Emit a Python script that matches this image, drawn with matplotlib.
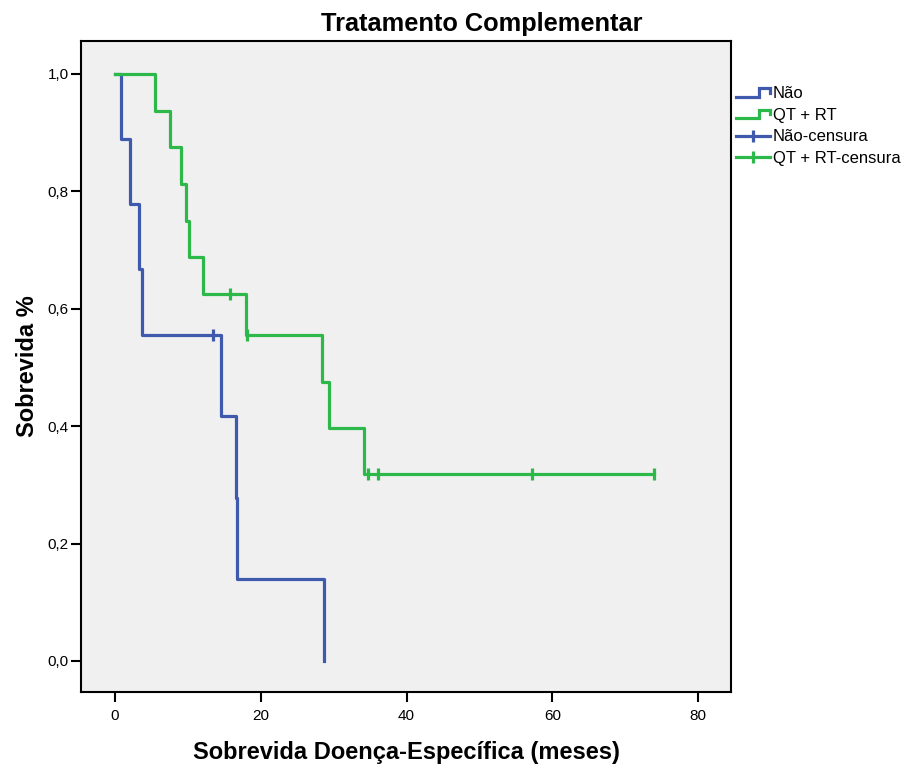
import matplotlib
matplotlib.use("Agg")
import matplotlib.pyplot as plt
from matplotlib.lines import Line2D
from matplotlib.legend_handler import HandlerBase
from matplotlib.ticker import FuncFormatter

plt.rcParams['font.family'] = ['Liberation Sans', 'DejaVu Sans']

# dados (Kaplan-Meier)
nao_tempo = [0, 0.8, 2.1, 3.3, 3.75, 14.6, 16.6, 16.7, 28.6]
nao_sobrev = [1.0, 0.889, 0.778, 0.667, 0.556, 0.417, 0.278, 0.139, 0.0]
nao_cens_tempo = [13.5]
nao_cens_sobrev = [0.556]

qt_tempo = [0, 5.5, 7.5, 9.0, 9.7, 10.1, 12.1, 18.0, 28.4, 29.3, 34.1, 73.9]
qt_sobrev = [1.0, 0.9375, 0.875, 0.8125, 0.75, 0.6875, 0.625, 0.556, 0.476, 0.397, 0.318, 0.318]
qt_cens_tempo = [15.8, 18.1, 34.7, 36.1, 57.2, 73.9]
qt_cens_sobrev = [0.625, 0.556, 0.318, 0.318, 0.318, 0.318]

legendas = ['Não', 'QT + RT', 'Não-censura', 'QT + RT-censura']
x_ticks = [0, 20, 40, 60, 80]
y_ticks = [0.0, 0.2, 0.4, 0.6, 0.8, 1.0]

azul = '#3F5AAD'
verde = '#2DB94A'


class HandlerStep(HandlerBase):
    """Ícone em degrau para a legenda"""
    def create_artists(self, legend, orig_handle, xdescent, ydescent,
                       width, height, fontsize, trans):
        x0, y0 = -xdescent, -ydescent
        xs = [x0, x0 + 0.68 * width, x0 + 0.68 * width, x0 + width, x0 + width]
        ys = [y0 + 0.1 * height, y0 + 0.1 * height, y0 + 0.85 * height,
              y0 + 0.85 * height, y0 + 0.45 * height]
        ln = Line2D(xs, ys, color=orig_handle.get_color(), lw=2.3,
                    solid_joinstyle='miter', transform=trans)
        return [ln]


fig = plt.figure(figsize=(9.05, 7.69), dpi=100)
ax = fig.add_axes([81 / 905, 77 / 769, 650 / 905, 651 / 769])
ax.set_facecolor('#F0F0F0')

l1, = ax.step(nao_tempo, nao_sobrev, where='post', color=azul, lw=2.3)
l2, = ax.step(qt_tempo, qt_sobrev, where='post', color=verde, lw=2.3)
c1, = ax.plot(nao_cens_tempo, nao_cens_sobrev, ls='none', marker='|',
              ms=8, mew=2.3, color=azul)
c2, = ax.plot(qt_cens_tempo, qt_cens_sobrev, ls='none', marker='|',
              ms=8, mew=2.3, color=verde)

ax.set_xlim(-4.67, 84.5)
ax.set_ylim(-0.0528, 1.056)
ax.set_xticks(x_ticks)
ax.set_yticks(y_ticks)
ax.yaxis.set_major_formatter(FuncFormatter(lambda v, p: f'{v:.1f}'.replace('.', ',')))
ax.tick_params(axis='both', direction='out', length=7, width=1.5,
               labelsize=11, colors='black', pad=2)
ax.tick_params(axis='x', pad=5)
for s in ax.spines.values():
    s.set_linewidth(1.5)
    s.set_color('black')

ax.set_xlabel('Sobrevida Doença-Específica (meses)', fontsize=17,
              fontweight='bold', labelpad=13)
ax.set_ylabel('Sobrevida %', fontsize=17, fontweight='bold', labelpad=6)
fig.text(482 / 905, 1 - 24 / 769, 'Tratamento Complementar', fontsize=18.3,
         fontweight='bold', ha='center', va='center')

# legenda com linhas de censura
h_c1 = Line2D([], [], color=azul, lw=2.3, marker='|', ms=8, mew=2.3)
h_c2 = Line2D([], [], color=verde, lw=2.3, marker='|', ms=8, mew=2.3)
fig.legend([l1, l2, h_c1, h_c2], legendas,
           handler_map={l1: HandlerStep(), l2: HandlerStep()},
           loc='upper left', bbox_to_anchor=(736 / 905, 1 - 86 / 769),
           frameon=False, fontsize=12, handlelength=2.05, handletextpad=0.15,
           labelspacing=0.4, borderaxespad=0, borderpad=0)

fig.savefig('out.png', dpi=100)
